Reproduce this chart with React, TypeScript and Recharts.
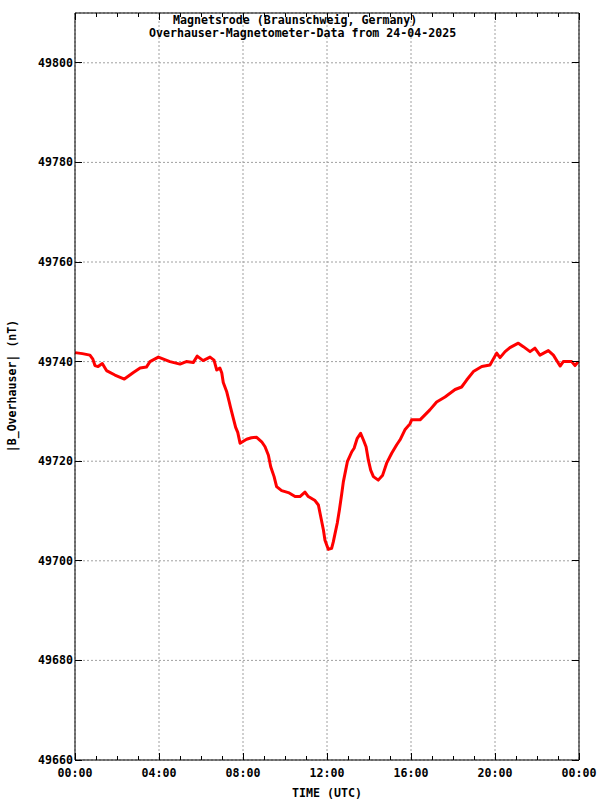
import React from 'react';
import { LineChart, Line, XAxis, YAxis, CartesianGrid } from 'recharts';

const hours = [
  0.0, 0.35, 0.71, 0.85, 0.95, 1.1, 1.3, 1.5, 1.9, 2.35, 2.78, 3.1, 3.4, 3.57, 3.97,
  4.52, 5.0, 5.3, 5.63, 5.82, 6.1, 6.43, 6.62, 6.75, 6.9, 6.99, 7.06, 7.22, 7.35, 7.4,
  7.54, 7.65, 7.75, 7.86, 8.17, 8.4, 8.65, 8.89, 9.05, 9.21, 9.32, 9.48, 9.6, 9.84,
  10.16, 10.48, 10.71, 10.95, 11.11, 11.43, 11.59, 11.7, 11.83, 11.9, 12.06, 12.22,
  12.3, 12.38, 12.49, 12.59, 12.7, 12.78, 12.89, 12.97, 13.18, 13.29, 13.44, 13.6,
  13.73, 13.86, 13.97, 14.08, 14.21, 14.44, 14.65, 14.84, 15.08, 15.32, 15.48, 15.71,
  15.95, 16.03, 16.43, 16.9, 17.22, 17.62, 18.1, 18.41, 18.65, 18.97, 19.37, 19.76,
  20.08, 20.24, 20.48, 20.71, 21.11, 21.35, 21.67, 21.9, 22.14, 22.54, 22.78, 23.1,
  23.25, 23.65, 23.81, 23.97,
];

const fieldNT = [
  49741.8, 49741.6, 49741.3, 49740.5, 49739.2, 49739.0, 49739.6, 49738.2, 49737.3, 49736.5, 49737.8, 49738.7, 49738.9, 49740.0, 49740.9,
  49740.0, 49739.5, 49740.0, 49739.8, 49741.1, 49740.2, 49740.9, 49740.3, 49738.3, 49738.7, 49737.7, 49735.8, 49734.0, 49731.8, 49730.9,
  49728.6, 49726.8, 49725.8, 49723.6, 49724.4, 49724.7, 49724.8, 49723.9, 49722.9, 49721.2, 49718.9, 49716.9, 49714.9, 49714.1,
  49713.7, 49712.9, 49712.9, 49713.8, 49712.9, 49712.1, 49711.2, 49708.9, 49706.2, 49704.2, 49702.3, 49702.5,
  49703.8, 49705.4, 49707.6, 49710.2, 49713.4, 49715.9, 49718.2, 49719.9, 49721.9, 49722.6, 49724.6, 49725.6,
  49724.3, 49722.9, 49720.2, 49718.2, 49716.9, 49716.2, 49717.2, 49719.6, 49721.6, 49723.3, 49724.3, 49726.3,
  49727.5, 49728.3, 49728.3, 49730.3, 49731.9, 49732.9, 49734.4, 49734.9, 49736.3, 49738.0, 49739.0, 49739.3,
  49741.7, 49740.8, 49742.0, 49742.8, 49743.7, 49743.0, 49742.0, 49742.7, 49741.3, 49742.2, 49741.3, 49739.1,
  49740.0, 49740.0, 49739.2, 49740.0,
];

const hourTicks = [0, 1, 2, 3, 4, 5, 6, 7, 8, 9, 10, 11, 12, 13, 14, 15, 16, 17, 18, 19, 20, 21, 22, 23, 24];
const majorHourTicks = [0, 4, 8, 12, 16, 20, 24];
const fieldTicks = [49660, 49680, 49700, 49720, 49740, 49760, 49780, 49800];
const fieldDomain = [49660, 49810];

const titleLine1 = 'Magnetsrode (Braunschweig, Germany)';
const titleLine2 = 'Overhauser-Magnetometer-Data from 24-04-2025';
const xLabel = 'TIME (UTC)';
const yLabel = '|B_Overhauser| (nT)';

const data = hours.map((t, i) => ({ t, b: fieldNT[i] }));

const FONT = "'DejaVu Sans Mono', 'Liberation Mono', monospace";
const FS = 11.6;
const fmtHour = (h: number) => `${String(h % 24).padStart(2, '0')}:00`;

const textProps = { fontFamily: FONT, fontSize: FS, fontWeight: 'bold' as const, fill: '#000' };

function BottomTick({ x, y, payload }: any) {
  const major = payload.value % 4 === 0;
  return (
    <g>
      <line x1={x} x2={x} y1={y} y2={y - (major ? 7 : 4)} stroke="#000" shapeRendering="crispEdges" />
      {major && (
        <text x={x} y={y + 17} textAnchor="middle" {...textProps}>
          {fmtHour(payload.value)}
        </text>
      )}
    </g>
  );
}

function TopTick({ x, y, payload }: any) {
  const major = payload.value % 4 === 0;
  return <line x1={x} x2={x} y1={y} y2={y + (major ? 7 : 4)} stroke="#000" shapeRendering="crispEdges" />;
}

function LeftTick({ x, y, payload }: any) {
  return (
    <g>
      <line x1={x} x2={x + 7} y1={y} y2={y} stroke="#000" shapeRendering="crispEdges" />
      <text x={x - 2} y={y + 4} textAnchor="end" {...textProps}>
        {payload.value}
      </text>
    </g>
  );
}

function RightTick({ x, y }: any) {
  return <line x1={x} x2={x - 7} y1={y} y2={y} stroke="#000" shapeRendering="crispEdges" />;
}

export default function App() {
  return (
    <div style={{ position: 'absolute', left: 0, top: 0, width: 600, height: 800, background: '#fff' }}>
      <LineChart width={600} height={800} data={data} margin={{ top: 0, right: 0, bottom: 0, left: 0 }}>
        <XAxis
          xAxisId="grid"
          type="number"
          dataKey="t"
          domain={[0, 24]}
          ticks={majorHourTicks}
          hide
        />
        <XAxis
          xAxisId="bottom"
          orientation="bottom"
          type="number"
          dataKey="t"
          domain={[0, 24]}
          ticks={hourTicks}
          interval={0}
          height={40}
          tickSize={0}
          tickMargin={0}
          tickLine={false}
          axisLine={{ stroke: '#000', strokeWidth: 1 }}
          tick={<BottomTick />}
        />
        <XAxis
          xAxisId="top"
          orientation="top"
          type="number"
          dataKey="t"
          domain={[0, 24]}
          ticks={hourTicks}
          interval={0}
          height={13}
          tickSize={0}
          tickMargin={0}
          tickLine={false}
          axisLine={{ stroke: '#000', strokeWidth: 1 }}
          tick={<TopTick />}
        />
        <YAxis
          yAxisId="left"
          orientation="left"
          type="number"
          domain={fieldDomain}
          ticks={fieldTicks}
          interval={0}
          width={75}
          tickSize={0}
          tickMargin={0}
          tickLine={false}
          axisLine={{ stroke: '#000', strokeWidth: 1 }}
          tick={<LeftTick />}
          allowDataOverflow
        />
        <YAxis
          yAxisId="right"
          orientation="right"
          type="number"
          domain={fieldDomain}
          ticks={fieldTicks}
          interval={0}
          width={21}
          tickSize={0}
          tickMargin={0}
          tickLine={false}
          axisLine={{ stroke: '#000', strokeWidth: 1 }}
          tick={<RightTick />}
          allowDataOverflow
        />
        <CartesianGrid
          xAxisId="grid"
          yAxisId="left"
          stroke="#a0a0a0"
          strokeDasharray="2 2"
          fill="none"
        />
        <Line
          xAxisId="bottom"
          yAxisId="left"
          type="linear"
          dataKey="b"
          stroke="#ff0000"
          strokeWidth={3}
          strokeLinejoin="round"
          dot={false}
          isAnimationActive={false}
        />
        <text x={173} y={24} {...textProps}>{titleLine1}</text>
        <text x={149} y={37} {...textProps}>{titleLine2}</text>
        <text x={327} y={797} textAnchor="middle" {...textProps}>{xLabel}</text>
        <text x={16} y={386} textAnchor="middle" transform="rotate(-90 16 386)" {...textProps}>{yLabel}</text>
      </LineChart>
    </div>
  );
}
